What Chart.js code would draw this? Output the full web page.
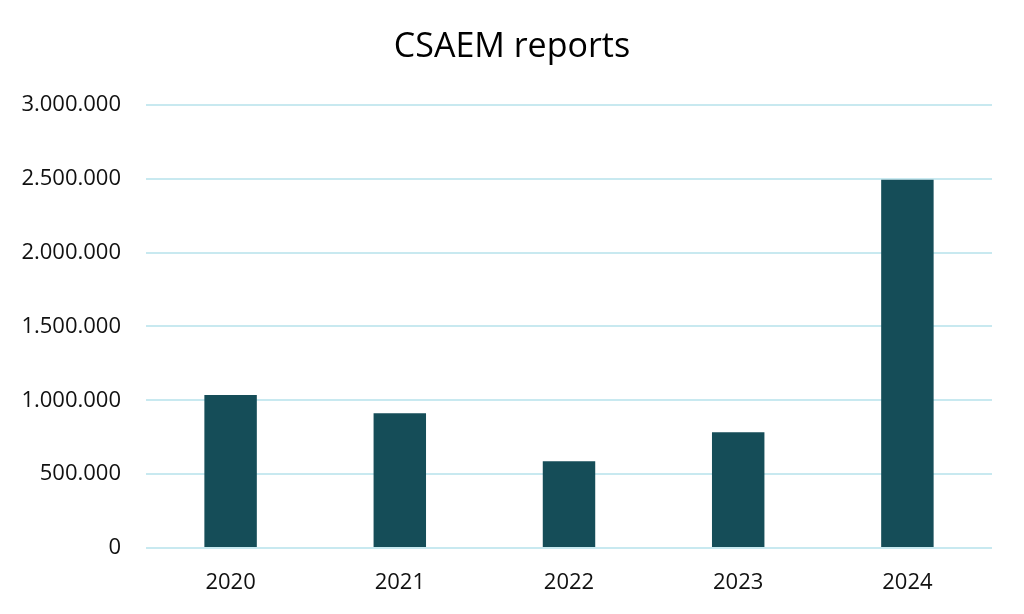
<!DOCTYPE html>
<html>
<head>
<meta charset="utf-8">
<script src="https://cdn.jsdelivr.net/npm/chart.js@4/dist/chart.umd.min.js"></script>
<style>
    html, body { margin: 0; padding: 0; background: #fff; }
    #wrap { width: 1024px; height: 614px; }
</style>
</head>
<body>
<div id="wrap"><canvas id="myBarChart"></canvas></div>
<script>
const years = ['2020', '2021', '2022', '2023', '2024']
const reports = [1036000, 912000, 588000, 783000, 2493000]
const yTicks = [0, 500000, 1000000, 1500000, 2000000, 2500000, 3000000]

const fontFamily = "'Open Sans', 'Noto Sans', sans-serif"

function formatDots(v) {
    return String(v).replace(/\B(?=(\d{3})+(?!\d))/g, '.')
}

const config = {
    type: 'bar',
    data: {
        labels: years,
        datasets: [{
            data: reports,
            backgroundColor: '#154d58',
            borderWidth: 0,
            categoryPercentage: 1,
            barPercentage: 0.31
        }]
    },
    options: {
        responsive: true,
        maintainAspectRatio: false,
        animation: false,
        layout: {
            padding: 0
        },
        plugins: {
            legend: { display: false },
            tooltip: { enabled: false },
            title: {
                display: true,
                text: 'CSAEM reports',
                color: '#000',
                font: { family: fontFamily, size: 34, weight: 'normal' },
                padding: { top: 27, bottom: 37 }
            }
        },
        scales: {
            x: {
                grid: { display: false, drawTicks: false },
                border: { display: false },
                ticks: {
                    color: '#111',
                    padding: 22,
                    font: { family: fontFamily, size: 22 }
                },
                afterFit: (scale) => { scale.height = 66 }
            },
            y: {
                min: 0,
                max: 3000000,
                afterBuildTicks: (scale) => {
                    scale.ticks = yTicks.map(v => ({ value: v }))
                },
                grid: {
                    color: '#c8e9f0',
                    lineWidth: 2,
                    drawTicks: false
                },
                border: { display: false },
                ticks: {
                    color: '#111',
                    padding: 25,
                    font: { family: fontFamily, size: 22 },
                    callback: (v) => formatDots(v)
                },
                afterFit: (scale) => { scale.width = 146 }
            },
            // empty right axis, only reserves the right margin
            yRight: {
                position: 'right',
                grid: { display: false, drawTicks: false },
                border: { display: false },
                ticks: { display: false },
                afterFit: (scale) => { scale.width = 32 }
            }
        }
    }
}

new Chart(document.querySelector('#myBarChart'), config)
</script>
</body>
</html>
